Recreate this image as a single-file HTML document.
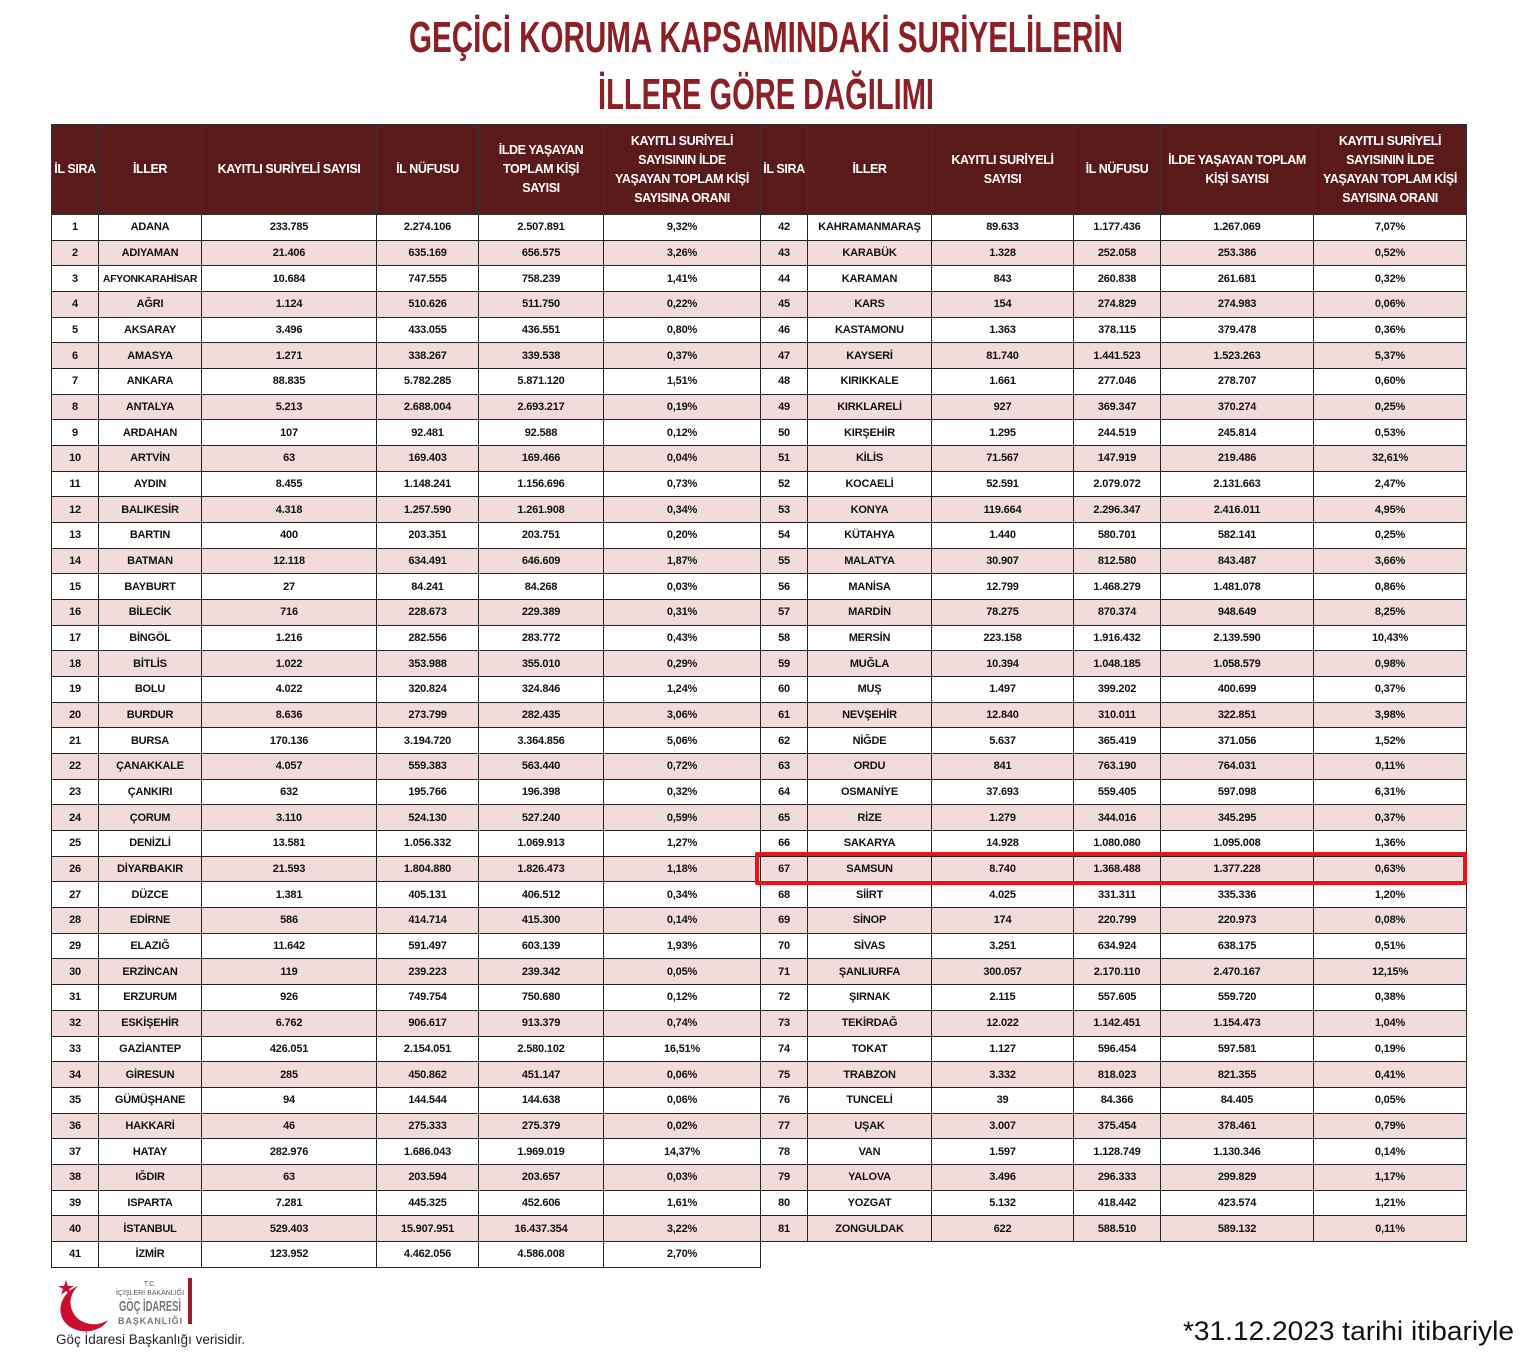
<!DOCTYPE html>
<html><head><meta charset="utf-8">
<style>
html,body{margin:0;padding:0;background:#fff;}
body{width:1530px;height:1354px;position:relative;overflow:hidden;font-family:"Liberation Sans",sans-serif;}
table{position:absolute;left:51px;top:124px;border-collapse:collapse;table-layout:fixed;width:1415px;}
td,th{border:1px solid #222;text-align:center;font-weight:bold;font-size:11px;padding:0;color:#111;overflow:hidden;white-space:nowrap;letter-spacing:-0.2px;}
th{background:#5a1a1a;color:#fff;height:89px;font-size:12.5px;line-height:19px;white-space:nowrap;border-color:#333;letter-spacing:-0.4px;}
tr.r{height:25.68px;}
tr.r:nth-child(odd) td{background:#f2dcdb;}
tr.r td.e{border:none;background:#fff !important;}
.hl{position:absolute;left:755px;top:852px;width:712px;height:33px;border:4px solid #e8141b;box-sizing:border-box;border-radius:2px;}
</style></head><body>
<svg style="position:absolute;left:0;top:0" width="1530" height="120">
<text x="766" y="52" text-anchor="middle" textLength="714" lengthAdjust="spacingAndGlyphs" font-family="Liberation Sans" font-weight="bold" font-size="44" fill="#8b2027">GEÇİCİ KORUMA KAPSAMINDAKİ SURİYELİLERİN</text>
<text x="766" y="109" text-anchor="middle" textLength="336" lengthAdjust="spacingAndGlyphs" font-family="Liberation Sans" font-weight="bold" font-size="44" fill="#8b2027">İLLERE GÖRE DAĞILIMI</text>
</svg>
<table>
<colgroup><col style="width:47px"><col style="width:103px"><col style="width:175px"><col style="width:102px"><col style="width:125px"><col style="width:157px"><col style="width:47px"><col style="width:124px"><col style="width:142px"><col style="width:87px"><col style="width:153px"><col style="width:153px"></colgroup>
<tr><th>İL SIRA</th><th>İLLER</th><th>KAYITLI SURİYELİ SAYISI</th><th>İL NÜFUSU</th><th>İLDE YAŞAYAN<br>TOPLAM KİŞİ<br>SAYISI</th><th>KAYITLI SURİYELİ<br>SAYISININ İLDE<br>YAŞAYAN TOPLAM KİŞİ<br>SAYISINA ORANI</th><th>İL SIRA</th><th>İLLER</th><th>KAYITLI SURİYELİ<br>SAYISI</th><th>İL NÜFUSU</th><th>İLDE YAŞAYAN TOPLAM<br>KİŞİ SAYISI</th><th>KAYITLI SURİYELİ<br>SAYISININ İLDE<br>YAŞAYAN TOPLAM KİŞİ<br>SAYISINA ORANI</th></tr>
<tr class="r"><td>1</td><td>ADANA</td><td>233.785</td><td>2.274.106</td><td>2.507.891</td><td>9,32%</td><td>42</td><td>KAHRAMANMARAŞ</td><td>89.633</td><td>1.177.436</td><td>1.267.069</td><td>7,07%</td></tr>
<tr class="r"><td>2</td><td>ADIYAMAN</td><td>21.406</td><td>635.169</td><td>656.575</td><td>3,26%</td><td>43</td><td>KARABÜK</td><td>1.328</td><td>252.058</td><td>253.386</td><td>0,52%</td></tr>
<tr class="r"><td>3</td><td style="font-size:10.5px;letter-spacing:-0.4px">AFYONKARAHİSAR</td><td>10.684</td><td>747.555</td><td>758.239</td><td>1,41%</td><td>44</td><td>KARAMAN</td><td>843</td><td>260.838</td><td>261.681</td><td>0,32%</td></tr>
<tr class="r"><td>4</td><td>AĞRI</td><td>1.124</td><td>510.626</td><td>511.750</td><td>0,22%</td><td>45</td><td>KARS</td><td>154</td><td>274.829</td><td>274.983</td><td>0,06%</td></tr>
<tr class="r"><td>5</td><td>AKSARAY</td><td>3.496</td><td>433.055</td><td>436.551</td><td>0,80%</td><td>46</td><td>KASTAMONU</td><td>1.363</td><td>378.115</td><td>379.478</td><td>0,36%</td></tr>
<tr class="r"><td>6</td><td>AMASYA</td><td>1.271</td><td>338.267</td><td>339.538</td><td>0,37%</td><td>47</td><td>KAYSERİ</td><td>81.740</td><td>1.441.523</td><td>1.523.263</td><td>5,37%</td></tr>
<tr class="r"><td>7</td><td>ANKARA</td><td>88.835</td><td>5.782.285</td><td>5.871.120</td><td>1,51%</td><td>48</td><td>KIRIKKALE</td><td>1.661</td><td>277.046</td><td>278.707</td><td>0,60%</td></tr>
<tr class="r"><td>8</td><td>ANTALYA</td><td>5.213</td><td>2.688.004</td><td>2.693.217</td><td>0,19%</td><td>49</td><td>KIRKLARELİ</td><td>927</td><td>369.347</td><td>370.274</td><td>0,25%</td></tr>
<tr class="r"><td>9</td><td>ARDAHAN</td><td>107</td><td>92.481</td><td>92.588</td><td>0,12%</td><td>50</td><td>KIRŞEHİR</td><td>1.295</td><td>244.519</td><td>245.814</td><td>0,53%</td></tr>
<tr class="r"><td>10</td><td>ARTVİN</td><td>63</td><td>169.403</td><td>169.466</td><td>0,04%</td><td>51</td><td>KİLİS</td><td>71.567</td><td>147.919</td><td>219.486</td><td>32,61%</td></tr>
<tr class="r"><td>11</td><td>AYDIN</td><td>8.455</td><td>1.148.241</td><td>1.156.696</td><td>0,73%</td><td>52</td><td>KOCAELİ</td><td>52.591</td><td>2.079.072</td><td>2.131.663</td><td>2,47%</td></tr>
<tr class="r"><td>12</td><td>BALIKESİR</td><td>4.318</td><td>1.257.590</td><td>1.261.908</td><td>0,34%</td><td>53</td><td>KONYA</td><td>119.664</td><td>2.296.347</td><td>2.416.011</td><td>4,95%</td></tr>
<tr class="r"><td>13</td><td>BARTIN</td><td>400</td><td>203.351</td><td>203.751</td><td>0,20%</td><td>54</td><td>KÜTAHYA</td><td>1.440</td><td>580.701</td><td>582.141</td><td>0,25%</td></tr>
<tr class="r"><td>14</td><td>BATMAN</td><td>12.118</td><td>634.491</td><td>646.609</td><td>1,87%</td><td>55</td><td>MALATYA</td><td>30.907</td><td>812.580</td><td>843.487</td><td>3,66%</td></tr>
<tr class="r"><td>15</td><td>BAYBURT</td><td>27</td><td>84.241</td><td>84.268</td><td>0,03%</td><td>56</td><td>MANİSA</td><td>12.799</td><td>1.468.279</td><td>1.481.078</td><td>0,86%</td></tr>
<tr class="r"><td>16</td><td>BİLECİK</td><td>716</td><td>228.673</td><td>229.389</td><td>0,31%</td><td>57</td><td>MARDİN</td><td>78.275</td><td>870.374</td><td>948.649</td><td>8,25%</td></tr>
<tr class="r"><td>17</td><td>BİNGÖL</td><td>1.216</td><td>282.556</td><td>283.772</td><td>0,43%</td><td>58</td><td>MERSİN</td><td>223.158</td><td>1.916.432</td><td>2.139.590</td><td>10,43%</td></tr>
<tr class="r"><td>18</td><td>BİTLİS</td><td>1.022</td><td>353.988</td><td>355.010</td><td>0,29%</td><td>59</td><td>MUĞLA</td><td>10.394</td><td>1.048.185</td><td>1.058.579</td><td>0,98%</td></tr>
<tr class="r"><td>19</td><td>BOLU</td><td>4.022</td><td>320.824</td><td>324.846</td><td>1,24%</td><td>60</td><td>MUŞ</td><td>1.497</td><td>399.202</td><td>400.699</td><td>0,37%</td></tr>
<tr class="r"><td>20</td><td>BURDUR</td><td>8.636</td><td>273.799</td><td>282.435</td><td>3,06%</td><td>61</td><td>NEVŞEHİR</td><td>12.840</td><td>310.011</td><td>322.851</td><td>3,98%</td></tr>
<tr class="r"><td>21</td><td>BURSA</td><td>170.136</td><td>3.194.720</td><td>3.364.856</td><td>5,06%</td><td>62</td><td>NİĞDE</td><td>5.637</td><td>365.419</td><td>371.056</td><td>1,52%</td></tr>
<tr class="r"><td>22</td><td>ÇANAKKALE</td><td>4.057</td><td>559.383</td><td>563.440</td><td>0,72%</td><td>63</td><td>ORDU</td><td>841</td><td>763.190</td><td>764.031</td><td>0,11%</td></tr>
<tr class="r"><td>23</td><td>ÇANKIRI</td><td>632</td><td>195.766</td><td>196.398</td><td>0,32%</td><td>64</td><td>OSMANİYE</td><td>37.693</td><td>559.405</td><td>597.098</td><td>6,31%</td></tr>
<tr class="r"><td>24</td><td>ÇORUM</td><td>3.110</td><td>524.130</td><td>527.240</td><td>0,59%</td><td>65</td><td>RİZE</td><td>1.279</td><td>344.016</td><td>345.295</td><td>0,37%</td></tr>
<tr class="r"><td>25</td><td>DENİZLİ</td><td>13.581</td><td>1.056.332</td><td>1.069.913</td><td>1,27%</td><td>66</td><td>SAKARYA</td><td>14.928</td><td>1.080.080</td><td>1.095.008</td><td>1,36%</td></tr>
<tr class="r"><td>26</td><td>DİYARBAKIR</td><td>21.593</td><td>1.804.880</td><td>1.826.473</td><td>1,18%</td><td>67</td><td>SAMSUN</td><td>8.740</td><td>1.368.488</td><td>1.377.228</td><td>0,63%</td></tr>
<tr class="r"><td>27</td><td>DÜZCE</td><td>1.381</td><td>405.131</td><td>406.512</td><td>0,34%</td><td>68</td><td>SİİRT</td><td>4.025</td><td>331.311</td><td>335.336</td><td>1,20%</td></tr>
<tr class="r"><td>28</td><td>EDİRNE</td><td>586</td><td>414.714</td><td>415.300</td><td>0,14%</td><td>69</td><td>SİNOP</td><td>174</td><td>220.799</td><td>220.973</td><td>0,08%</td></tr>
<tr class="r"><td>29</td><td>ELAZIĞ</td><td>11.642</td><td>591.497</td><td>603.139</td><td>1,93%</td><td>70</td><td>SİVAS</td><td>3.251</td><td>634.924</td><td>638.175</td><td>0,51%</td></tr>
<tr class="r"><td>30</td><td>ERZİNCAN</td><td>119</td><td>239.223</td><td>239.342</td><td>0,05%</td><td>71</td><td>ŞANLIURFA</td><td>300.057</td><td>2.170.110</td><td>2.470.167</td><td>12,15%</td></tr>
<tr class="r"><td>31</td><td>ERZURUM</td><td>926</td><td>749.754</td><td>750.680</td><td>0,12%</td><td>72</td><td>ŞIRNAK</td><td>2.115</td><td>557.605</td><td>559.720</td><td>0,38%</td></tr>
<tr class="r"><td>32</td><td>ESKİŞEHİR</td><td>6.762</td><td>906.617</td><td>913.379</td><td>0,74%</td><td>73</td><td>TEKİRDAĞ</td><td>12.022</td><td>1.142.451</td><td>1.154.473</td><td>1,04%</td></tr>
<tr class="r"><td>33</td><td>GAZİANTEP</td><td>426.051</td><td>2.154.051</td><td>2.580.102</td><td>16,51%</td><td>74</td><td>TOKAT</td><td>1.127</td><td>596.454</td><td>597.581</td><td>0,19%</td></tr>
<tr class="r"><td>34</td><td>GİRESUN</td><td>285</td><td>450.862</td><td>451.147</td><td>0,06%</td><td>75</td><td>TRABZON</td><td>3.332</td><td>818.023</td><td>821.355</td><td>0,41%</td></tr>
<tr class="r"><td>35</td><td>GÜMÜŞHANE</td><td>94</td><td>144.544</td><td>144.638</td><td>0,06%</td><td>76</td><td>TUNCELİ</td><td>39</td><td>84.366</td><td>84.405</td><td>0,05%</td></tr>
<tr class="r"><td>36</td><td>HAKKARİ</td><td>46</td><td>275.333</td><td>275.379</td><td>0,02%</td><td>77</td><td>UŞAK</td><td>3.007</td><td>375.454</td><td>378.461</td><td>0,79%</td></tr>
<tr class="r"><td>37</td><td>HATAY</td><td>282.976</td><td>1.686.043</td><td>1.969.019</td><td>14,37%</td><td>78</td><td>VAN</td><td>1.597</td><td>1.128.749</td><td>1.130.346</td><td>0,14%</td></tr>
<tr class="r"><td>38</td><td>IĞDIR</td><td>63</td><td>203.594</td><td>203.657</td><td>0,03%</td><td>79</td><td>YALOVA</td><td>3.496</td><td>296.333</td><td>299.829</td><td>1,17%</td></tr>
<tr class="r"><td>39</td><td>ISPARTA</td><td>7.281</td><td>445.325</td><td>452.606</td><td>1,61%</td><td>80</td><td>YOZGAT</td><td>5.132</td><td>418.442</td><td>423.574</td><td>1,21%</td></tr>
<tr class="r"><td>40</td><td>İSTANBUL</td><td>529.403</td><td>15.907.951</td><td>16.437.354</td><td>3,22%</td><td>81</td><td>ZONGULDAK</td><td>622</td><td>588.510</td><td>589.132</td><td>0,11%</td></tr>
<tr class="r"><td>41</td><td>İZMİR</td><td>123.952</td><td>4.462.056</td><td>4.586.008</td><td>2,70%</td><td class="e"></td><td class="e"></td><td class="e"></td><td class="e"></td><td class="e"></td><td class="e"></td></tr>
</table>
<div class="hl"></div>
<svg style="position:absolute;left:0;top:1270px" width="1530" height="84">
<polygon points="66,10 68,16 74,16 69,19 71,25 66,21 61,25 63,19 58,16 64,16" fill="#c8102e"/>
<path d="M78,16 C58,24 54,48 72,58 C88,66 104,58 108,50 C96,58 80,54 74,44 C68,34 70,24 78,16Z" fill="#c8102e"/>
<text x="150" y="16" text-anchor="middle" font-family="Liberation Sans" font-size="7" fill="#555">T.C.</text>
<text x="150" y="25" text-anchor="middle" font-family="Liberation Sans" font-size="7" fill="#555">İÇİŞLERİ BAKANLIĞI</text>
<text x="150" y="41" text-anchor="middle" font-family="Liberation Sans" font-weight="bold" font-size="15" textLength="62" lengthAdjust="spacingAndGlyphs" fill="#777">GÖÇ İDARESİ</text>
<text x="150" y="54" text-anchor="middle" font-family="Liberation Sans" font-weight="bold" font-size="9" textLength="64" lengthAdjust="spacing" fill="#777">BAŞKANLIĞI</text>
<rect x="188" y="8" width="4" height="46" fill="#a01b2a"/>
<text x="56" y="74" font-family="Liberation Sans" font-size="13.5" fill="#222">Göç İdaresi Başkanlığı verisidir.</text>
<text x="1183" y="70" textLength="331" lengthAdjust="spacingAndGlyphs" font-family="Liberation Sans" font-size="27" fill="#111">*31.12.2023 tarihi itibariyle</text>
</svg>
</body></html>
